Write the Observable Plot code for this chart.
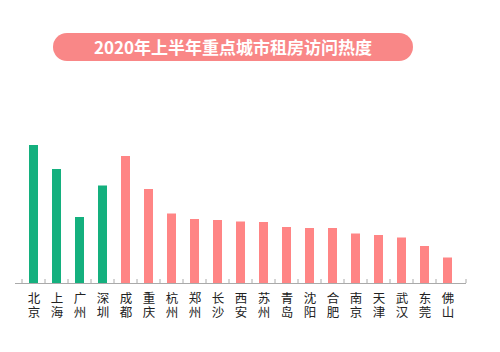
<!DOCTYPE html>
<html><head><meta charset="utf-8">
<script src="https://cdn.jsdelivr.net/npm/d3@7"></script>
<script src="https://cdn.jsdelivr.net/npm/@observablehq/plot@0.6"></script>
<style>
body{margin:0;background:#fff;font-family:"Noto Sans CJK SC",sans-serif;}
#wrap{width:500px;height:352px;position:relative;overflow:hidden;}
#title{position:absolute;left:53px;top:33px;width:360px;height:28px;border-radius:14px;background:#F98787;color:#fff;font-weight:bold;font-size:17px;line-height:28px;text-align:center;letter-spacing:0px;}
#chart{position:absolute;left:0;top:72px;}
</style></head>
<body>
<div id="wrap"><div id="title">2020年上半年重点城市租房访问热度</div><div id="chart"></div></div>
<script>
const cities = ["北京","上海","广州","深圳","成都","重庆","杭州","郑州","长沙","西安","苏州","青岛","沈阳","合肥","南京","天津","武汉","东莞","佛山"];
const heat = [138,114,66,97.5,127,94,69.5,64,63,61.5,61,56,55,55,49.5,48,45.5,37,25.5];
const tier = ["一线","一线","一线","一线","其他","其他","其他","其他","其他","其他","其他","其他","其他","其他","其他","其他","其他","其他","其他"];
const data = cities.map((c,i)=>({city:c, heat:heat[i], tier:tier[i]}));

const boundaryTicks = (index, scales, values, dim) => {
  const x = scales.x;
  const bw = x.bandwidth(), step = x.step();
  const y0 = scales.y(0);
  const g = d3.create("svg:g");
  const xs = cities.map(c => x(c) - (step - bw)/2);
  xs.push(dim.width - dim.marginRight);
  for (const px of xs) {
    g.append("line").attr("x1", px).attr("x2", px).attr("y1", y0 - 4).attr("y2", y0)
      .attr("stroke", "#aaa").attr("stroke-width", 1);
  }
  return g.node();
};

const chart = Plot.plot({
  width: 500,
  height: 280,
  marginLeft: 15,
  marginRight: 34,
  marginTop: 71,
  marginBottom: 69,
  x: {type: "band", domain: cities, paddingInner: 0.6, paddingOuter: 0.3, axis: null},
  y: {domain: [0, 140], axis: null},
  color: {domain: ["一线","其他"], range: ["#14B07E","#FF8585"]},
  style: {fontFamily: "Noto Sans CJK SC, sans-serif", background: "#fff"},
  marks: [
    Plot.barY(data, {x: "city", y: "heat", fill: "tier"}),
    Plot.ruleY([0], {stroke: "#aaa", strokeWidth: 1}),
    boundaryTicks,
    Plot.text(data, {x: "city", text: d => d.city.split("").join("\n"), frameAnchor: "bottom", lineAnchor: "top", dy: 10, lineHeight: 1.12, fontSize: 12.5, fill: "#222"})
  ]
});
document.getElementById("chart").appendChild(chart);
</script>
</body></html>
